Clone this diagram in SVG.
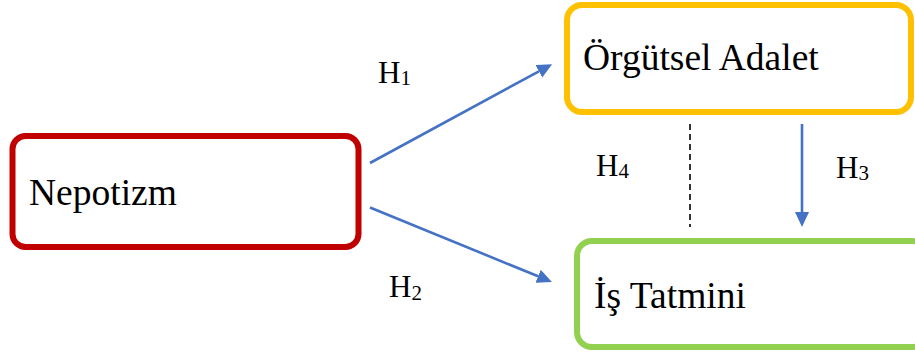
<svg xmlns="http://www.w3.org/2000/svg" width="915" height="360" viewBox="0 0 915 360">
  <style>
    .box { fill: #ffffff; stroke-width: 6; }
    .lbl { font-family: "Liberation Serif", "Times New Roman", serif; fill: #000000; }
    .node { font-size: 37.5px; }
    .h { font-size: 31px; }
    .sub { font-size: 21px; }
    .arrow { stroke: #4472C4; stroke-width: 2.6; fill: none; }
    .dash { stroke: #000000; stroke-width: 1.6; stroke-dasharray: 6 4; fill: none; }
  </style>
  <defs>
    <marker id="ah" markerUnits="userSpaceOnUse" markerWidth="16" markerHeight="15" refX="0" refY="7" orient="auto">
      <path d="M0,0 L15,7 L0,14 z" fill="#4472C4"/>
    </marker>
  </defs>
  <rect width="915" height="360" fill="#ffffff"/>

  <g id="nepotizm">
    <rect class="box" x="12.5" y="136" width="346" height="111" rx="13" stroke="#C00000"/>
    <text class="lbl node" x="29" y="205">Nepotizm</text>
  </g>

  <g id="orgutsel-adalet">
    <rect class="box" x="567" y="5" width="344" height="107" rx="15" stroke="#FFC000"/>
    <text class="lbl node" x="583" y="70">Örgütsel Adalet</text>
  </g>

  <g id="is-tatmini">
    <rect class="box" x="577" y="241" width="350" height="106" rx="15" stroke="#92D050"/>
    <text class="lbl node" x="594" y="308">İş Tatmini</text>
  </g>

  <g id="connectors">
    <line class="arrow" x1="370" y1="163" x2="538.9" y2="71.3" marker-end="url(#ah)"/>
    <line class="arrow" x1="370" y1="207.5" x2="538.1" y2="276.3" marker-end="url(#ah)"/>
    <line class="arrow" x1="802" y1="124" x2="802" y2="212" marker-end="url(#ah)"/>
    <line class="dash" x1="690" y1="124" x2="690" y2="227"/>
  </g>

  <g id="labels">
    <text class="lbl h" x="378" y="83">H<tspan class="sub" dy="2">1</tspan></text>
    <text class="lbl h" x="389" y="297">H<tspan class="sub" dy="3">2</tspan></text>
    <text class="lbl h" x="836" y="178">H<tspan class="sub" dy="2">3</tspan></text>
    <text class="lbl h" x="596" y="176">H<tspan class="sub" dy="2">4</tspan></text>
  </g>
</svg>
